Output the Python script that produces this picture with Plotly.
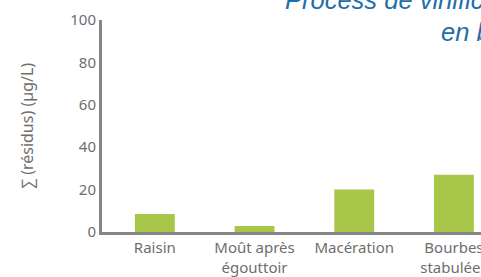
import plotly.graph_objects as go

categories = ["Raisin", "Moût après<br>égouttoir", "Macération", "Bourbes<br>stabulées"]
values = [8.5, 2.8, 20, 27]
y_ticks = [0, 20, 40, 60, 80, 100]
title_line1 = "Process de vinification"
title_line2 = "en blanc"
y_title = "∑ (résidus) (µg/L)"

W, H = 481, 277
L, R, T, B = 102, 0, 19.5, 45
pw, ph = W - L - R, H - T - B

def px_x(x):
    return (x - L) / pw

def px_y(y):
    return 1 + (T - y) / ph

fig = go.Figure(go.Bar(
    x=list(range(len(categories))), y=values,
    marker=dict(color="#a8c64a", line=dict(width=0)),
    width=0.4, hoverinfo="skip",
))

font = "Noto Sans, Open Sans, sans-serif"
tick_color = "#6e6e6e"
fig.update_layout(
    width=W, height=H,
    margin=dict(l=L, r=R, t=T, b=B, pad=0, autoexpand=False),
    plot_bgcolor="white", paper_bgcolor="white",
    showlegend=False,
    font=dict(family=font, size=15, color=tick_color),
)
fig.update_xaxes(
    range=[-0.53, -0.53 + pw / 99.7], automargin=False,
    tickmode="array", tickvals=list(range(len(categories))), ticktext=categories,
    ticklabeloverflow="allow",
    showline=True, linecolor="#85858a", linewidth=3,
    showgrid=False, zeroline=False, ticks="",
    tickfont=dict(size=15, color=tick_color),
)
fig.update_yaxes(
    range=[0, 100], tickvals=y_ticks, automargin=False,
    ticklabeloverflow="allow",
    showline=True, linecolor="#85858a", linewidth=3,
    showgrid=False, zeroline=False, ticks="",
    tickfont=dict(size=15, color=tick_color),
    title=dict(text=y_title, font=dict(size=16, color=tick_color), standoff=33),
)
tfont = dict(family="Liberation Sans, Arial, sans-serif", size=25.5, color="#1f6ea9", style="italic")
fig.add_annotation(text=title_line1, xref="paper", yref="paper",
                   x=px_x(283), y=px_y(-1), xanchor="left", yanchor="middle",
                   showarrow=False, font=tfont)
fig.add_annotation(text=title_line2, xref="paper", yref="paper",
                   x=px_x(439), y=px_y(31.5), xanchor="left", yanchor="middle",
                   showarrow=False, font=tfont)

fig.write_html("out.html", config={"displayModeBar": False},
               post_script="document.body.style.margin='0';document.body.style.overflow='hidden';")
